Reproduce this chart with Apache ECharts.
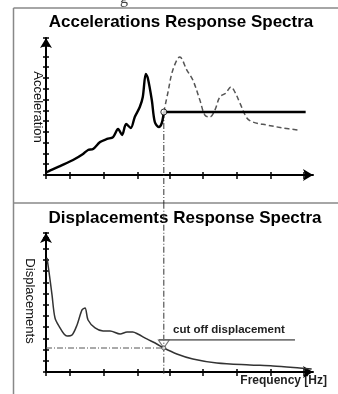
<!DOCTYPE html>
<html>
<head>
<meta charset="utf-8">
<script src="https://cdn.jsdelivr.net/npm/echarts@6/dist/echarts.min.js"></script>
<style>
  html, body { margin: 0; padding: 0; background: #fff; }
  #chart { width: 338px; height: 394px; }
</style>
</head>
<body>
<div id="chart"></div>
<script>
// Frequency axis tick positions (shared by both panels)
const freqTicks = [0, 0.72, 1.74, 2.75, 3.71, 4.7, 5.72, 6.74, 7.73];

// Acceleration spectrum of the structure (solid, up to the cut-off frequency)
const accelFreq = [0, 0.03, 0.42, 0.81, 1.11, 1.26, 1.41, 1.62, 1.83, 2.01, 2.16, 2.28, 2.4, 2.54, 2.66, 2.81, 2.9, 2.99, 3.05, 3.17, 3.26, 3.38, 3.47, 3.53];
const accelAmp  = [0.19, 0.28, 0.83, 1.39, 1.95, 2.32, 2.41, 3.06, 3.34, 3.52, 4.26, 3.71, 4.73, 4.36, 5.38, 6.3, 7.23, 9.36, 8.99, 6.95, 4.91, 4.45, 4.82, 5.84];

// Original spectrum above the cut-off frequency (dashed)
const residFreq = [3.53, 3.65, 3.8, 4.01, 4.22, 4.4, 4.61, 4.76, 4.91, 5.06, 5.21, 5.39, 5.54, 5.66, 5.81, 6.02, 6.2, 6.62, 7.1, 7.54];
const residAmp  = [5.84, 7.6, 9.73, 10.94, 9.73, 8.8, 6.95, 5.56, 5.38, 6.02, 7.23, 7.6, 8.16, 7.69, 6.67, 5.28, 4.91, 4.63, 4.36, 4.17];

// Displacement spectrum
const dispFreq = [0.03, 0.09, 0.18, 0.27, 0.42, 0.54, 0.63, 0.78, 0.93, 1.08, 1.17, 1.26, 1.47, 1.71, 1.92, 2.22, 2.43, 2.6, 2.75, 3.02, 3.32, 3.53, 3.92, 4.4, 5.12, 6.11, 6.8, 7.6, 7.96];
const dispAmp  = [10.18, 8.93, 6.88, 4.82, 3.93, 3.39, 3.21, 3.3, 4.2, 5.54, 5.71, 4.64, 3.93, 3.66, 3.66, 3.39, 3.57, 3.57, 3.39, 2.95, 2.5, 2.14, 1.61, 1.16, 0.8, 0.63, 0.54, 0.36, 0.27];

// Cut-off values
const cutoffFreq = 3.53;
const plateauEndFreq = 7.78;
const cutoffAccel = 5.84;
const cutoffDisp = 2.14;
const cutoffLimit = 2.86;
const cutoffLimitFreq = [3.38, 7.46];

const zip = (xs, ys) => xs.map((x, i) => [x, ys[i]]);

const FONT = '"Liberation Sans", Arial, Helvetica, sans-serif';
const AXIS_COLOR = '#000';

const panelTop = { left: 46, top: 38, width: 267, height: 137 };
const panelBottom = { left: 46, top: 233, width: 267, height: 139 };

function xAxisPair(gridIndex, outer) {
  return {
    type: 'value', gridIndex, min: 0, max: 8, position: 'bottom',
    axisLine: outer ? { show: true, symbol: ['none', 'arrow'], symbolSize: [9, 10], lineStyle: { color: AXIS_COLOR, width: 2 } } : { show: false },
    axisTick: { show: true, inside: !outer, length: outer ? 4 : 3, customValues: freqTicks, lineStyle: { color: AXIS_COLOR, width: 1.5 } },
    axisLabel: { show: false },
    splitLine: { show: false }
  };
}
function yAxisPair(gridIndex, max, outer) {
  return {
    type: 'value', gridIndex, min: 0, max, interval: 1, position: 'left',
    axisLine: outer ? { show: true, symbol: ['none', 'arrow'], symbolSize: [9, 10], lineStyle: { color: AXIS_COLOR, width: 2 } } : { show: false },
    axisTick: { show: true, inside: !outer, length: 3, lineStyle: { color: AXIS_COLOR, width: 1.5 } },
    axisLabel: { show: false },
    splitLine: { show: false }
  };
}

const dashDot = [6, 2, 1, 2];

const chart = echarts.init(document.getElementById('chart'), null, { renderer: 'canvas' });
chart.setOption({
  animation: false,
  backgroundColor: '#fff',
  grid: [panelTop, panelTop, panelBottom, panelBottom],
  xAxis: [xAxisPair(0, true), xAxisPair(1, false), xAxisPair(2, true), xAxisPair(3, false)],
  yAxis: [yAxisPair(0, 12.7, true), yAxisPair(1, 12.7, false), yAxisPair(2, 12.4, true), yAxisPair(3, 12.4, false)],
  series: [
    // vertical cut-off guide, top panel
    { type: 'line', xAxisIndex: 0, yAxisIndex: 0, clip: false, symbol: 'none', z: 1,
      data: [[cutoffFreq, cutoffAccel], [cutoffFreq, -2.6]],
      lineStyle: { color: '#333', width: 1, type: dashDot } },
    // dashed original spectrum
    { type: 'line', xAxisIndex: 0, yAxisIndex: 0, symbol: 'none', smooth: 0.35, z: 2,
      data: zip(residFreq, residAmp),
      lineStyle: { color: '#555', width: 1.5, type: [5, 3] } },
    // solid acceleration spectrum
    { type: 'line', xAxisIndex: 0, yAxisIndex: 0, symbol: 'none', smooth: 0.3, z: 3,
      data: zip(accelFreq, accelAmp),
      lineStyle: { color: '#000', width: 2.4 } },
    // plateau above cut-off frequency
    { type: 'line', xAxisIndex: 0, yAxisIndex: 0, symbol: 'none', z: 3,
      data: [[cutoffFreq, cutoffAccel], [plateauEndFreq, cutoffAccel]],
      lineStyle: { color: '#000', width: 2.4 } },
    { type: 'scatter', xAxisIndex: 0, yAxisIndex: 0, symbol: 'circle', symbolSize: 6, z: 5,
      data: [[cutoffFreq, cutoffAccel]],
      itemStyle: { color: '#fff', borderColor: '#000', borderWidth: 1 } },

    // vertical cut-off guide, bottom panel
    { type: 'line', xAxisIndex: 2, yAxisIndex: 2, clip: false, symbol: 'none', z: 1,
      data: [[cutoffFreq, 15.1], [cutoffFreq, -0.2]],
      lineStyle: { color: '#333', width: 1, type: dashDot } },
    // horizontal guide to cut-off displacement
    { type: 'line', xAxisIndex: 2, yAxisIndex: 2, symbol: 'none', z: 1,
      data: [[0, cutoffDisp], [cutoffFreq, cutoffDisp]],
      lineStyle: { color: '#555', width: 1, type: dashDot } },
    // cut-off displacement limit
    { type: 'line', xAxisIndex: 2, yAxisIndex: 2, symbol: 'none', z: 2,
      data: [[cutoffLimitFreq[0], cutoffLimit], [cutoffLimitFreq[1], cutoffLimit]],
      lineStyle: { color: '#777', width: 1.8 } },
    // displacement spectrum
    { type: 'line', xAxisIndex: 2, yAxisIndex: 2, symbol: 'none', smooth: 0.3, z: 3,
      data: zip(dispFreq, dispAmp),
      lineStyle: { color: '#333', width: 1.5 } },
    { type: 'scatter', xAxisIndex: 2, yAxisIndex: 2, symbol: 'triangle', symbolRotate: 180, symbolSize: [11, 8], symbolOffset: [0, 4], z: 4,
      data: [[cutoffFreq, cutoffLimit]],
      itemStyle: { color: 'rgba(255,255,255,0)', borderColor: '#555', borderWidth: 1 } },
    { type: 'scatter', xAxisIndex: 2, yAxisIndex: 2, symbol: 'circle', symbolSize: 4, z: 5,
      data: [[cutoffFreq, cutoffDisp]],
      itemStyle: { color: '#fff', borderColor: '#444', borderWidth: 1 } }
  ],
  graphic: [
    // panel frame
    { type: 'line', shape: { x1: 13.5, y1: 8, x2: 338, y2: 8 }, style: { stroke: '#888', lineWidth: 1.5 } },
    { type: 'line', shape: { x1: 13.5, y1: 8, x2: 13.5, y2: 394 }, style: { stroke: '#888', lineWidth: 1.5 } },
    { type: 'line', shape: { x1: 13.5, y1: 203, x2: 338, y2: 203 }, style: { stroke: '#888', lineWidth: 1.5 } },
    // descender of the caption line above
    { type: 'text', x: 124, y: -9, style: { text: 'g', font: '16px "Liberation Serif", serif', fill: '#444', textAlign: 'center', textVerticalAlign: 'top' } },
    // titles
    { type: 'text', x: 181, y: 22, style: { text: 'Accelerations Response Spectra', font: 'bold 17px ' + FONT, fill: '#000', textAlign: 'center', textVerticalAlign: 'middle' } },
    { type: 'text', x: 185, y: 218, style: { text: 'Displacements Response Spectra', font: 'bold 17px ' + FONT, fill: '#000', textAlign: 'center', textVerticalAlign: 'middle' } },
    // axis names
    { type: 'text', x: 38, y: 107, rotation: -Math.PI / 2, style: { text: 'Acceleration', font: '13px ' + FONT, fill: '#111', textAlign: 'center', textVerticalAlign: 'middle' } },
    { type: 'text', x: 30, y: 301, rotation: -Math.PI / 2, style: { text: 'Displacements', font: '13px ' + FONT, fill: '#111', textAlign: 'center', textVerticalAlign: 'middle' } },
    { type: 'text', x: 327, y: 381, style: { text: 'Frequency [Hz]', font: 'bold 12px ' + FONT, fill: '#222', textAlign: 'right', textVerticalAlign: 'middle' } },
    { type: 'text', x: 173, y: 330, style: { text: 'cut off displacement', font: 'bold 11.5px ' + FONT, fill: '#222', textAlign: 'left', textVerticalAlign: 'middle' } }
  ]
});
</script>
</body>
</html>
